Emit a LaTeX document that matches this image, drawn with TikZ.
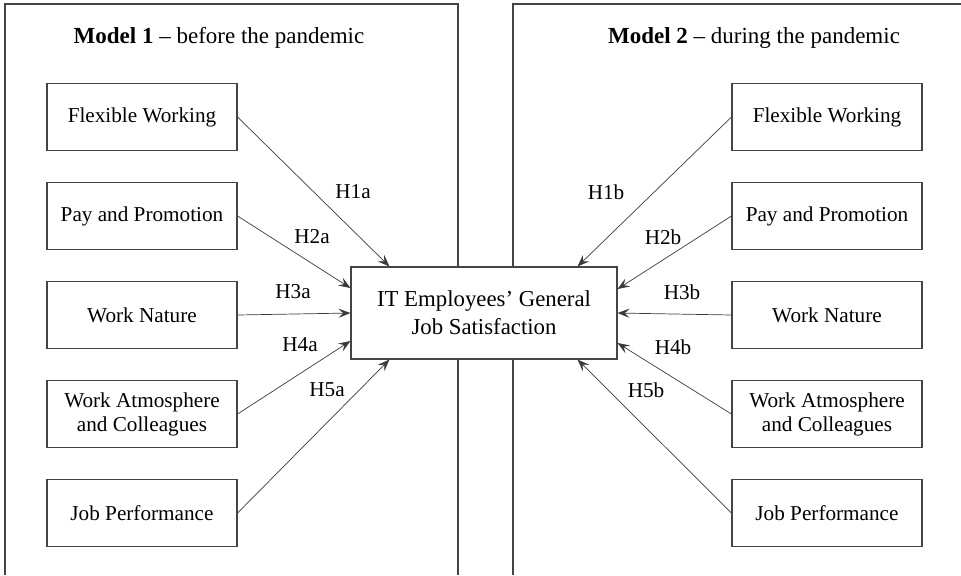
\documentclass[tikz,border=0pt]{standalone}
\usepackage{fontspec}
\setmainfont{Liberation Serif}
\usetikzlibrary{arrows.meta,positioning}
\definecolor{FrameGray}{HTML}{444444}
\definecolor{ArrowGray}{HTML}{3A3A3A}

\begin{document}
\begin{tikzpicture}[
  x=0.5pt,
  y=-0.5pt,
  >=Stealth,
  factor/.style={rectangle,draw=FrameGray,fill=white,line width=0.55pt,
    minimum width=95pt,minimum height=33.5pt,inner sep=0pt,align=center,
    font=\rmfamily\fontsize{10.6}{12}\selectfont},
  target/.style={factor,minimum width=133pt,minimum height=46pt,
    font=\rmfamily\fontsize{11.4}{14}\selectfont},
  panel/.style={draw=FrameGray,line width=0.55pt},
  path/.style={-{Stealth[length=6pt,width=4.6pt,inset=2.4pt]},draw=ArrowGray,line width=0.35pt},
  hyp/.style={font=\rmfamily\fontsize{10.6}{12}\selectfont,inner sep=1pt},
  title/.style={font=\rmfamily\fontsize{11.5}{13}\selectfont,inner sep=0pt}
]
  \useasboundingbox (0,0) rectangle (961,575);

  % the two panels
  \draw[panel] (5,575) -- (5,4) -- (458,4) -- (458,575);
  \draw[panel] (961,4) -- (513,4) -- (513,575);
  \node[title] (t1) at (219,38) {\textbf{Model 1} -- before the pandemic};
  \node[title] (t2) at (754,38) {\textbf{Model 2} -- during the pandemic};

  \node[target] (js) at (484,313) {IT Employees' General\\Job Satisfaction};

  % model 1
  \node[factor] (fw1) at (142,117) {Flexible Working};
  \node[factor] (pp1) at (142,216) {Pay and Promotion};
  \node[factor] (wn1) at (142,315) {Work Nature};
  \node[factor] (wa1) at (142,414) {Work Atmosphere\\and Colleagues};
  \node[factor] (jp1) at (142,513) {Job Performance};

  % model 2
  \node[factor] (fw2) at (827,117) {Flexible Working};
  \node[factor] (pp2) at (827,216) {Pay and Promotion};
  \node[factor] (wn2) at (827,315) {Work Nature};
  \node[factor] (wa2) at (827,414) {Work Atmosphere\\and Colleagues};
  \node[factor] (jp2) at (827,513) {Job Performance};

  \draw[path] (fw1.east) -- ([xshift=19.5pt]js.north west);
  \draw[path] (pp1.east) -- ([yshift=12.5pt]js.west);
  \draw[path] (wn1.east) -- (js.west);
  \draw[path] (wa1.east) -- ([yshift=-14pt]js.west);
  \draw[path] (jp1.east) -- ([xshift=19.5pt]js.south west);

  \draw[path] (fw2.west) -- ([xshift=-20pt]js.north east);
  \draw[path] (pp2.west) -- ([yshift=12pt]js.east);
  \draw[path] (wn2.west) -- (js.east);
  \draw[path] (wa2.west) -- ([yshift=-15pt]js.east);
  \draw[path] (jp2.west) -- ([xshift=-20pt]js.south east);

  \node[hyp] (h1a) at (353,192) {H1a};
  \node[hyp] (h2a) at (312,237) {H2a};
  \node[hyp] (h3a) at (293,292) {H3a};
  \node[hyp] (h4a) at (300,345) {H4a};
  \node[hyp] (h5a) at (327,390) {H5a};

  \node[hyp] (h1b) at (606,192) {H1b};
  \node[hyp] (h2b) at (663,237) {H2b};
  \node[hyp] (h3b) at (682,292) {H3b};
  \node[hyp] (h4b) at (673,347) {H4b};
  \node[hyp] (h5b) at (646,390) {H5b};
\end{tikzpicture}
\end{document}
